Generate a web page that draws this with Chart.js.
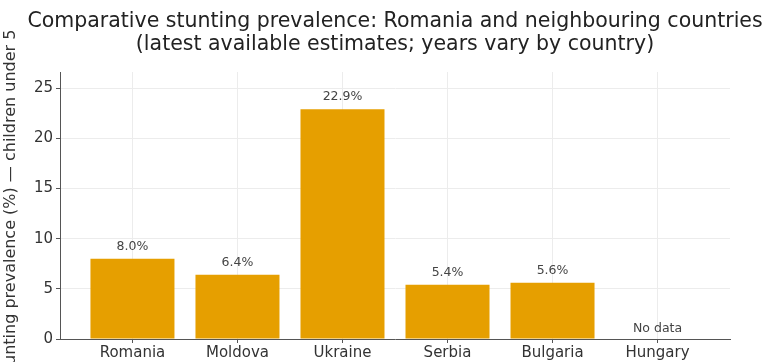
<!DOCTYPE html>
<html>
<head>
<meta charset="utf-8">
<script src="https://cdn.jsdelivr.net/npm/chart.js@4.4.1/dist/chart.umd.min.js"></script>
<style>
  body { margin: 0; background: #fff; }
  #wrap { width: 767px; height: 362px; }
</style>
</head>
<body>
<div id="wrap"><canvas id="stunting-chart"></canvas></div>
<script>
// Stunting prevalence, children under 5 (%)
const countries = ['Romania', 'Moldova', 'Ukraine', 'Serbia', 'Bulgaria', 'Hungary'];
const prevalence = [8.0, 6.4, 22.9, 5.4, 5.6, null];
const yTicks = [0, 5, 10, 15, 20, 25];
const titleLines = [
    'Comparative stunting prevalence: Romania and neighbouring countries',
    '(latest available estimates; years vary by country)'
];

const barColor = '#E69F00';
const textColor = '#333333';

// value labels above bars, "No data" where missing
const valueLabels = {
    id: 'valueLabels',
    afterDatasetsDraw(chart) {
        const ctx = chart.ctx;
        const x = chart.scales.x;
        const y = chart.scales.y;
        ctx.save();
        ctx.font = '12.5px "DejaVu Sans"';
        ctx.fillStyle = '#444444';
        ctx.textAlign = 'center';
        ctx.textBaseline = 'bottom';
        prevalence.forEach((v, i) => {
            const px = x.getPixelForValue(i);
            if (v === null) {
                ctx.fillText('No data', px, y.getPixelForValue(0) - 4);
            } else {
                ctx.fillText(v.toFixed(1) + '%', px, y.getPixelForValue(v) - 6);
            }
        });
        ctx.restore();
    }
};

// title centred over the axes (the built-in one squeezes the long line)
const axesTitle = {
    id: 'axesTitle',
    afterDraw(chart) {
        const ctx = chart.ctx;
        const area = chart.chartArea;
        const cx = (area.left + area.right) / 2;
        ctx.save();
        ctx.font = '20.5px "DejaVu Sans"';
        ctx.fillStyle = '#222222';
        ctx.textAlign = 'center';
        ctx.textBaseline = 'middle';
        titleLines.forEach((line, i) => {
            ctx.fillText(line, cx, 22 + i * 23);
        });
        ctx.restore();
    }
};

let stuntingChart = null;
function createStuntingChart() {
    const ctx = document.getElementById('stunting-chart').getContext('2d');
    stuntingChart = new Chart(ctx, {
        type: 'bar',
        data: {
            datasets: [{
                data: prevalence.map((v, i) => ({ x: i, y: v })),
                backgroundColor: barColor,
                borderWidth: 0,
                categoryPercentage: 0.8,
                barPercentage: 1.0
            }]
        },
        options: {
            responsive: true,
            maintainAspectRatio: false,
            animation: false,
            layout: {
                padding: { left: 0, right: 37, top: 72, bottom: 0 }
            },
            plugins: {
                legend: { display: false },
                tooltip: { enabled: false },
                title: { display: false }
            },
            scales: {
                x: {
                    type: 'linear',
                    offset: false,
                    min: -0.69,
                    max: 5.69,
                    afterBuildTicks: (axis) => {
                        axis.ticks = countries.map((_, i) => ({ value: i }));
                    },
                    afterFit: (axis) => { axis.height = 23; },
                    ticks: {
                        callback: (v) => countries[v],
                        color: textColor,
                        font: { family: 'DejaVu Sans', size: 15 },
                        padding: 1,
                        maxRotation: 0,
                        autoSkip: false
                    },
                    grid: {
                        offset: false,
                        color: '#ececec',
                        tickColor: '#555555',
                        tickLength: 4
                    },
                    border: { color: '#555555', width: 1 }
                },
                y: {
                    min: 0,
                    max: 26.6,
                    afterBuildTicks: (axis) => {
                        axis.ticks = yTicks.map(v => ({ value: v }));
                    },
                    afterFit: (axis) => { axis.width = 60; },
                    title: {
                        display: true,
                        text: 'Stunting prevalence (%) \u2014 children under 5',
                        color: textColor,
                        font: { family: 'DejaVu Sans', size: 16 },
                        padding: { top: 1, bottom: 2 }
                    },
                    ticks: {
                        color: textColor,
                        font: { family: 'DejaVu Sans', size: 15 },
                        padding: 3
                    },
                    grid: {
                        color: '#ececec',
                        tickColor: '#555555',
                        tickLength: 4
                    },
                    border: { color: '#555555', width: 1 }
                }
            }
        },
        plugins: [valueLabels, axesTitle]
    });
    return stuntingChart;
}

createStuntingChart();
</script>
</body>
</html>
